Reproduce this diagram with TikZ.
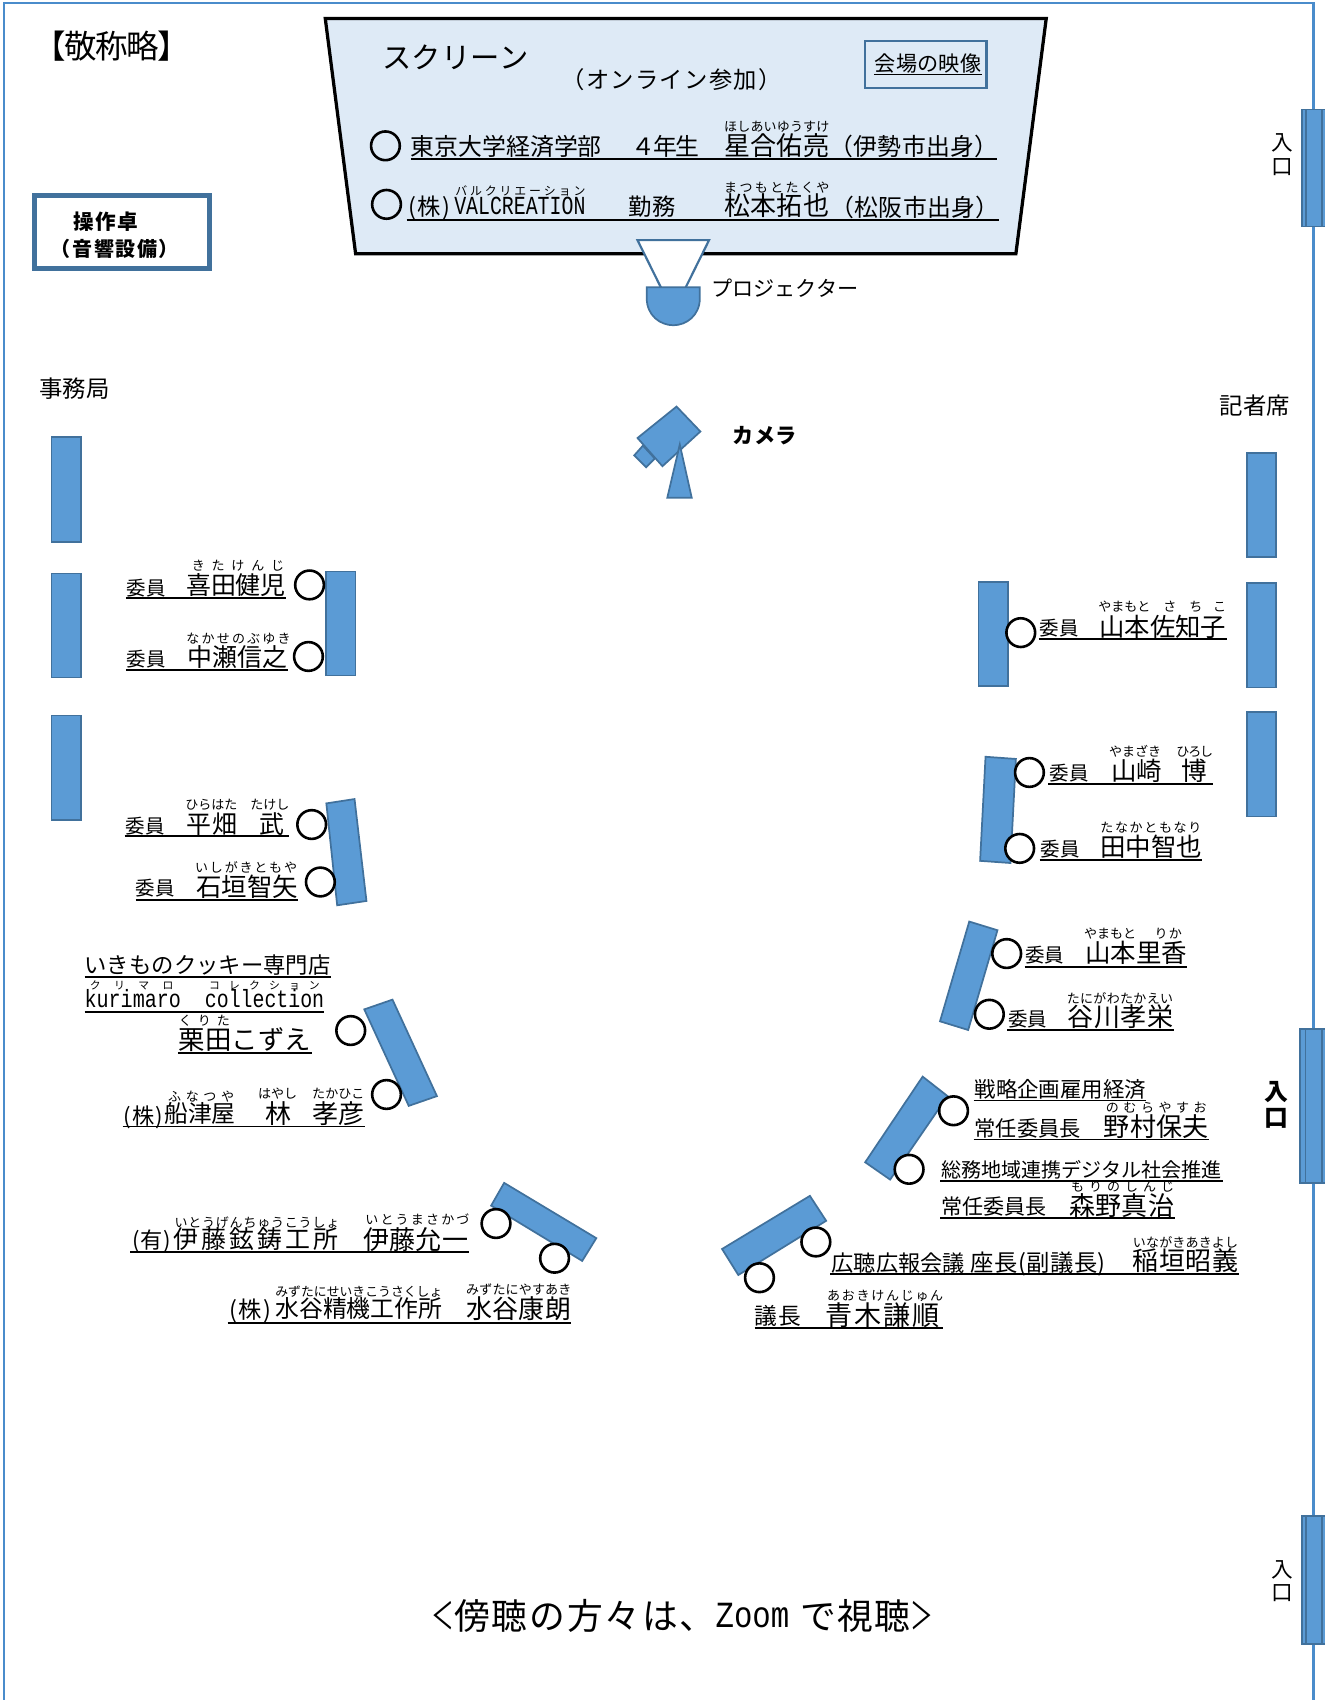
\documentclass[tikz,border=0pt]{standalone}
\usepackage{fontspec}
\usepackage{graphicx}
\setmainfont{Noto Sans CJK JP}
\newfontfamily\cjk{Noto Sans CJK JP}
\newfontfamily\mono{Liberation Mono}
\definecolor{seat}{HTML}{5B9BD5}
\definecolor{seatline}{HTML}{41719C}
\definecolor{screenfill}{HTML}{DEEAF6}
\definecolor{framecol}{HTML}{4A8CCB}
\tikzset{
  txt/.style={anchor=base west,inner sep=0pt,outer sep=0pt,text=black},
  tbl/.style={fill=seat,draw=seatline,line width=1.6pt},
  who/.style={circle,draw=black,fill=white,line width=2.4pt,minimum size=26.5pt,inner sep=0pt,xshift=.5pt,yshift=-.5pt},
  whoclear/.style={circle,draw=black,line width=2.4pt,minimum size=26.5pt,inner sep=0pt,xshift=.5pt,yshift=-.5pt},
  rule/.style={draw=black,line width=1.8pt}
}
\newcounter{nn}
\def\sprd#1{\sprdA#1\relax}
\def\sprdA#1#2{#1\ifx#2\relax\else\hskip 0pt plus 1fil minus 1fil\expandafter\sprdA\expandafter#2\fi}
% x1 x2 ycentre size text
\newcommand\fit[5]{\stepcounter{nn}\pgfmathsetmacro\fitby{#3+1+0.38*#4}\pgfmathsetmacro\fitw{#2-#1}%
  \node[txt] (t\arabic{nn}) at (#1,\fitby) {\cjk\fontsize{#4}{#4}\selectfont\makebox[\fitw pt][s]{\sprd{#5}}};}
\newcommand\fitb[5]{\stepcounter{nn}\pgfmathsetmacro\fitby{#3+1+0.38*#4}\pgfmathsetmacro\fitw{#2-#1}%
  \node[txt] (t\arabic{nn}) at (#1,\fitby) {\cjk\bfseries\fontsize{#4}{#4}\selectfont\makebox[\fitw pt][s]{\sprd{#5}}};}
\newcommand\fitm[5]{\stepcounter{nn}\pgfmathsetmacro\fitby{#3+0.36*#4}\pgfmathsetmacro\fitw{#2-#1}%
  \node[txt] (t\arabic{nn}) at (#1,\fitby) {\mono\fontsize{#4}{#4}\selectfont\resizebox{\fitw pt}{\height}{#5}};}
\newcommand\fitc[5]{\stepcounter{nn}\pgfmathsetmacro\fitby{#3+1+0.38*#4}\pgfmathsetmacro\fitw{#2-#1}%
  \node[txt] (t\arabic{nn}) at (#1,\fitby) {\cjk\fontsize{#4}{#4}\selectfont\resizebox{\fitw pt}{\height}{#5}};}
\newcommand\ul[3]{\draw[rule] (#1,#3) -- (#2,#3);}
\begin{document}
\begin{tikzpicture}[x=1pt,y=-1pt]
\useasboundingbox (0,0) rectangle (1222,1568);
% room frame
\draw[framecol,line width=2.2pt] (3.5,1568) -- (3.5,3) -- (1211.5,3) -- (1211.5,1568);
\fit{31}{175}{42}{30}{【敬称略】}
% screen
\draw[fill=screenfill,draw=black,line width=3pt] (300,17) -- (965,17) -- (937,234) -- (328,234) -- cycle;
\fit{353}{488}{52}{27}{スクリーン}
\fit{518}{721}{72}{21.5}{（オンライン参加）}
\node[draw=seatline,line width=2.4pt,minimum width=112pt,minimum height=43pt,inner sep=0pt] (b1) at (854,59.5) {};
\fit{807}{905}{58}{19.5}{会場の映像}
\draw[line width=1pt] (806,69) -- (906,69);
\node[whoclear] (c1) at (355,134) {};
\node[whoclear] (c2) at (356,188) {};
\fit{379}{555}{134}{22}{東京大学経済学部}
\fit{582}{645}{134}{22}{４年生}
\fit{668}{765}{133}{24}{星合佑亮}
\fit{765}{921}{134}{22}{（伊勢市出身）}
\fit{668}{765}{116}{12}{ほしあいゆうすけ}
\ul{379}{920}{147}
\fit{377}{415}{190}{21.5}{(株)}
\fitm{419}{540}{189}{24}{VALCREATION}
\fit{580}{623}{190}{21.5}{勤務}
\fit{668}{765}{189}{24}{松本拓也}
\fit{766}{922}{190}{22}{（松阪市出身）}
\fit{420}{540}{175}{11}{バルクリエーション}
\fit{668}{765}{172}{12}{まつもとたくや}
\ul{375}{921}{203}
% projector
\draw[fill=white,draw=seatline,line width=2pt] (588,221.5) -- (654,221.5) -- (632,266) -- (610,266) -- cycle;
\draw[tbl] (596.5,265) -- (645.5,265) -- (645.5,275) .. controls (645.5,291) and (633,300) .. (621,300) .. controls (609,300) and (596.5,291) .. (596.5,275) -- cycle;
\fit{656}{792}{265}{19.5}{プロジェクター}
% console
\node[draw=seatline,fill=white,line width=5pt,minimum width=161pt,minimum height=67pt,inner sep=0pt] (b2) at (112.5,214) {};
\fitb{68}{127}{203}{19}{操作卓}
\fitb{47}{165}{229}{18.5}{（音響設備）}
\fit{36}{101}{357}{21.6}{事務局}
\fit{1125}{1190}{373}{21.6}{記者席}
\fitb{676}{735}{401}{19.5}{カメラ}
% camera
\draw[tbl] (585,420) -- (593,411) -- (604,423) -- (596,431) -- cycle;
\draw[tbl] (588,404) -- (624,375) -- (646,398) -- (611,430) -- cycle;
\draw[tbl] (615.5,459) -- (638,459) -- (627,410) -- cycle;
% side tables
\draw[tbl] (47.5,403) rectangle (75,500);
\draw[tbl] (47.5,529) rectangle (75,625);
\draw[tbl] (47.5,660) rectangle (75,756);
\draw[tbl] (1150,418) rectangle (1177,514);
\draw[tbl] (1150,538) rectangle (1177,634);
\draw[tbl] (1150,657) rectangle (1177,753);
% seats tables
\draw[tbl] (300.5,527) rectangle (328,623);
\draw[tbl] (301,741) -- (327,737) -- (338,831) -- (311,835) -- cycle;
\draw[tbl] (336,931) -- (362,922) -- (403,1011) -- (377,1020) -- cycle;
\draw[tbl] (465,1091) -- (550,1142) -- (537,1163) -- (453,1112) -- cycle;
\draw[tbl] (902.5,537) rectangle (930,633);
\draw[tbl] (909,698) -- (937,700) -- (932,796) -- (904,794) -- cycle;
\draw[tbl] (894,850) -- (920,858) -- (893,950) -- (867,942) -- cycle;
\draw[tbl] (851,993) -- (874,1011) -- (821,1088) -- (798,1072) -- cycle;
\draw[tbl] (747,1103) -- (762,1126) -- (681,1176) -- (666,1152) -- cycle;
% entrances
\draw[tbl] (1201,101) rectangle (1226,209);
\draw[tbl] (1204.5,101) rectangle (1219,209);
\draw[tbl] (1199,949) rectangle (1226,1091);
\draw[tbl] (1204,949) rectangle (1219,1091);
\draw[tbl] (1201,1398) rectangle (1226,1516);
\draw[tbl] (1204.5,1398) rectangle (1219,1516);
\fit{1173}{1193}{130}{20}{入}
\fit{1173}{1193}{152}{20}{口}
\fitb{1166}{1188}{1006}{22}{入}
\fitb{1166}{1188}{1030}{22}{口}
\fit{1173}{1193}{1446}{20}{入}
\fit{1173}{1193}{1468}{20}{口}
% left people
\node[who] (p1) at (285,539) {};
\fit{117}{153}{541}{18}{委員}
\fit{172}{263}{539}{23}{喜田健児}
\fit{177}{262}{521}{12}{きたけんじ}
\ul{116}{264}{552}
\node[who] (p2) at (284,605) {};
\fit{117}{153}{607}{18}{委員}
\fit{173}{265}{605}{23}{中瀬信之}
\fit{172}{268}{588}{12}{なかせのぶゆき}
\ul{116}{266}{618}
\node[who] (p3) at (287,760) {};
\fit{116}{152}{761}{18}{委員}
\fit{172}{219}{759}{23}{平畑}
\fit{239}{262}{759}{23}{武}
\fit{171}{219}{741}{12}{ひらはた}
\fit{231}{267}{741}{12}{たけし}
\ul{115}{267}{771}
\node[who] (p4) at (295,813) {};
\fit{125}{161}{818}{18}{委員}
\fit{181}{275}{817}{23.5}{石垣智矢}
\fit{180}{274}{799}{12}{いしがきともや}
\ul{125}{275}{830}
\fit{78}{305}{889}{20.6}{いきものクッキー専門店}
\ul{78}{305}{901}
\fitm{78}{167}{921}{23}{kurimaro}
\fitm{189}{299}{921}{23}{collection}
\fit{83}{160}{908}{10}{クリマロ}
\fit{193}{295}{908}{10}{コレクション}
\ul{78}{299}{933}
\node[who] (p5) at (323,950) {};
\fit{165}{287}{958}{24.4}{栗田こずえ}
\fit{165}{212}{940}{12}{くりた}
\ul{164}{288}{971}
\node[who] (p6) at (356,1009) {};
\fit{114}{150}{1028}{20.5}{(株)}
\fit{152}{217}{1026}{22}{船津屋}
\fit{245}{269}{1026}{24}{林}
\fit{288}{336}{1026}{24}{孝彦}
\fit{155}{216}{1010}{12}{ふなつや}
\fit{238}{274}{1008}{12}{はやし}
\fit{288}{336}{1008}{12}{たかひこ}
\ul{113}{337}{1039}
\node[who] (p7) at (457,1128) {};
\fit{122}{158}{1143}{20.5}{(有)}
\fit{160}{312}{1142}{23}{伊藤鉉鋳工所}
\fit{335}{432}{1142}{24}{伊藤允一}
\fit{161}{313}{1127}{12}{いとうげんちゅうこうしょ}
\fit{337}{433}{1124}{12}{いとうまさかづ}
\ul{120}{433}{1155}
\node[who] (p8) at (511,1160) {};
\fit{212}{250}{1207}{21.5}{(株)}
\fit{254}{408}{1206}{22}{水谷精機工作所}
\fit{430}{527}{1206}{24}{水谷康朗}
\fit{254}{408}{1190}{11.8}{みずたにせいきこうさくしょ}
\fit{430}{527}{1188}{12}{みずたにやすあき}
\ul{210}{527}{1220}
% right people
\node[who] (q1) at (700,1178) {};
\fit{696}{739}{1213}{21}{議長}
\fit{761}{867}{1212}{25}{青木謙順}
\fit{763}{870}{1194}{12}{あおきけんじゅん}
\ul{696}{870}{1225}
\node[who] (q2) at (752,1145) {};
\fit{767}{890}{1164}{20.5}{広聴広報会議}
\fit{895}{1020}{1164}{21.5}{座長(副議長)}
\fit{1045}{1142}{1162}{24}{稲垣昭義}
\fit{1045}{1142}{1145}{12}{いながきあきよし}
\ul{766}{1143}{1175}
\node[who] (q3) at (838,1078) {};
\fit{868}{1127}{1078}{18.5}{総務地域連携デジタル社会推進}
\ul{867}{1128}{1089}
\fit{868}{965}{1112}{19.4}{常任委員長}
\fit{986}{1083}{1111}{24}{森野真治}
\fit{988}{1083}{1093}{12}{もりのしんじ}
\ul{867}{1084}{1123}
\node[who] (q4) at (879,1024) {};
\fit{899}{1057}{1004}{19.8}{戦略企画雇用経済}
\draw[line width=1pt] (898,1015) -- (1057,1015);
\fit{899}{997}{1040}{19.6}{常任委員長}
\fit{1018}{1115}{1038}{24}{野村保夫}
\fit{1020}{1113}{1021}{12}{のむらやすお}
\ul{898}{1115}{1051}
\node[who] (q5) at (912,935) {};
\fit{930}{966}{939}{18}{委員}
\fit{985}{1082}{937}{24}{谷川孝栄}
\fit{984}{1082}{920}{12}{たにがわたかえい}
\ul{929}{1083}{950}
\node[who] (q6) at (928,879) {};
\fit{946}{981}{880}{18}{委員}
\fit{1001}{1095}{878}{23.5}{山本里香}
\fit{1000}{1048}{860}{12}{やまもと}
\fit{1065}{1077}{860}{12}{り}
\fit{1078}{1090}{860}{12}{か}
\ul{945}{1095}{892}
\node[who] (q7) at (940,782) {};
\fit{960}{996}{782}{18}{委員}
\fit{1015}{1109}{780}{23.5}{田中智也}
\fit{1015}{1108}{762}{12}{たなかともなり}
\ul{959}{1109}{793}
\node[who] (q8) at (949,712) {};
\fit{968}{1004}{712}{18}{委員}
\fit{1025}{1072}{710}{23.5}{山崎}
\fit{1090}{1113}{710}{23.5}{博}
\fit{1023}{1071}{692}{12}{やまざき}
\fit{1085}{1119}{692}{12}{ひろし}
\ul{967}{1119}{723}
\node[who] (q9) at (941,583) {};
\fit{959}{995}{578}{18}{委員}
\fit{1014}{1131}{577}{23.4}{山本佐知子}
\fit{1013}{1061}{558}{12}{やまもと}
\fit{1073}{1085}{558}{12}{さ}
\fit{1097}{1109}{558}{12}{ち}
\fit{1119}{1131}{558}{12}{こ}
\ul{958}{1132}{589}
% bottom
\fitc{398}{419}{1489}{34}{＜}
\fit{419}{660}{1489}{33}{傍聴の方々は、}
\fitm{660}{728}{1489}{34}{Zoom}
\fit{738}{840}{1489}{33}{で視聴}
\fitc{840}{861}{1489}{34}{＞}
\end{tikzpicture}
\end{document}
